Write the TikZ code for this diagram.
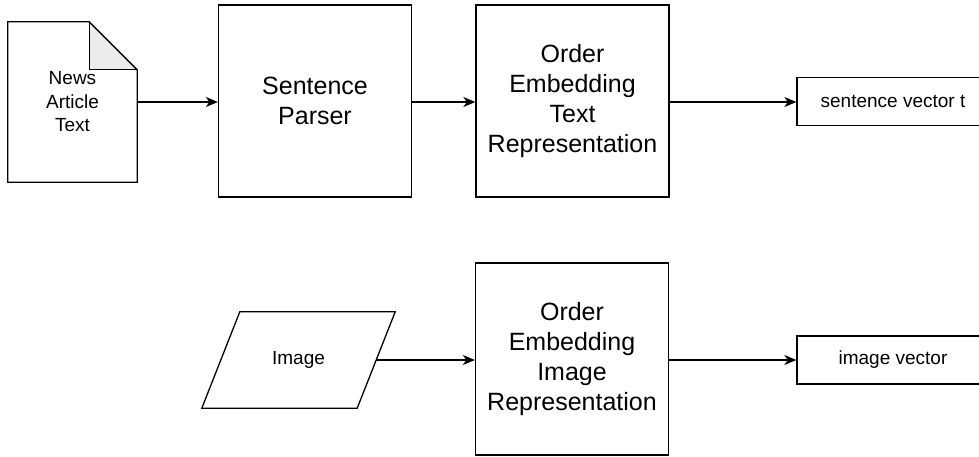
\documentclass[tikz,border=0pt]{standalone}
\usepackage{fontspec}
\setmainfont{Liberation Sans}
\usetikzlibrary{arrows.meta}

\tikzset{
  box/.style={draw, line width=1.3pt, minimum width=193pt, minimum height=192pt,
    align=center, inner sep=0pt, font=\fontsize{25}{30}\selectfont},
  smallbox/.style={draw, line width=1.3pt, minimum width=192pt, minimum height=48pt,
    align=center, inner sep=0pt, font=\fontsize{19}{23}\selectfont},
  shapeholder/.style={draw=none, inner sep=0pt, align=center,
    font=\fontsize{19}{23.5}\selectfont},
  outline/.style={line width=1.3pt, line join=miter},
  flow/.style={line width=1.3pt, -{Stealth[length=12pt, width=10pt, inset=3.5pt]}},
}

\begin{document}
\begin{tikzpicture}[x=1pt, y=-1pt]
  \clip (0,0) rectangle (979,457);

  % document: news article text
  \node[shapeholder, minimum width=129pt, minimum height=160pt] (doc) at (72.5,102) {News\\Article\\Text};
  \fill[gray!15] ([xshift=-48pt]doc.north east) -- ([yshift=-48pt]doc.north east)
        -- ([xshift=-48pt,yshift=-48pt]doc.north east) -- cycle;
  \draw[outline] (doc.north west) -- ([xshift=-48pt]doc.north east)
        -- ([yshift=-48pt]doc.north east) -- (doc.south east) -- (doc.south west) -- cycle;
  \draw[outline] ([xshift=-48pt]doc.north east) -- ([xshift=-48pt,yshift=-48pt]doc.north east)
        -- ([yshift=-48pt]doc.north east);

  % image input: parallelogram
  \node[shapeholder, minimum width=155pt, minimum height=96pt] (img) at (298.5,360) {Image};
  \draw[outline] ([xshift=19pt]img.north west) -- ([xshift=19pt]img.north east)
        -- ([xshift=-19pt]img.south east) -- ([xshift=-19pt]img.south west) -- cycle;

  % processing blocks
  \node[box] (parser) at (315,101) {Sentence\\Parser};
  \node[box] (oetext) at (572.5,101) {Order\\Embedding\\Text\\Representation};
  \node[box] (oeimg) at (572,359) {Order\\Embedding\\Image\\Representation};

  % outputs
  \node[smallbox] (svec) at (893,101.5) {sentence vector t};
  \node[smallbox] (ivec) at (893,360) {image vector};

  % connectors
  \draw[flow] (doc.east |- 0,102) -- (parser.west |- 0,102);
  \draw[flow] (parser.east |- 0,102) -- (oetext.west |- 0,102);
  \draw[flow] (oetext.east |- 0,102) -- (svec.west |- 0,102);
  \draw[flow] (img.east) -- (oeimg.west |- img.east);
  \draw[flow] (oeimg.east |- img.east) -- (ivec.west);
\end{tikzpicture}
\end{document}
